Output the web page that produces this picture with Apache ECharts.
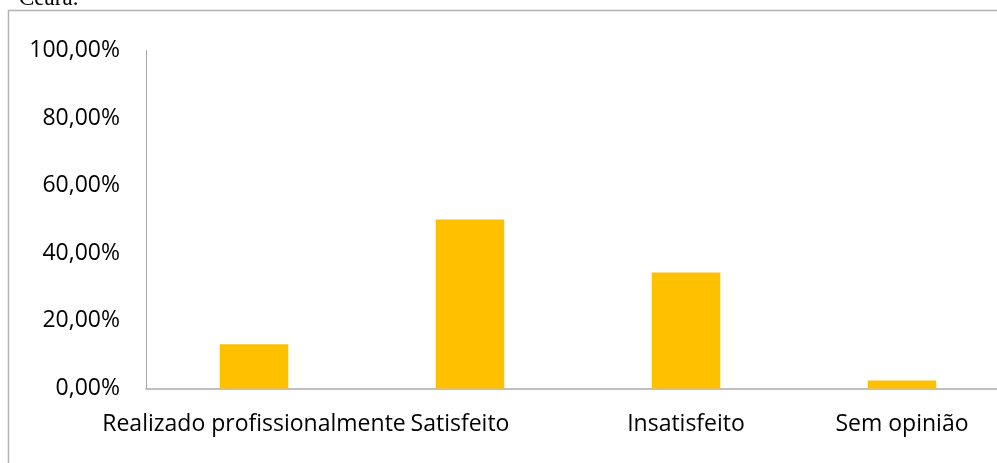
<!DOCTYPE html>
<html>
<head>
<meta charset="utf-8">
<script src="https://cdn.jsdelivr.net/npm/echarts@6/dist/echarts.min.js"></script>
<style>
  html, body { margin: 0; padding: 0; background: #fff; }
  #chart { width: 997px; height: 463px; }
</style>
</head>
<body>
<div id="chart"></div>
<script>
// Satisfação profissional — percentuais por categoria
const categories = ['Realizado profissionalmente', 'Satisfeito', 'Insatisfeito', 'Sem opinião'];
const percentages = [13.1, 50.0, 34.3, 2.4];
const yTicks = { min: 0, max: 100, step: 20 };
const captionText = 'Ceará.';

const chart = echarts.init(document.getElementById('chart'), null, { renderer: 'canvas' });

const fmtPct = v => v.toFixed(2).replace('.', ',') + '%';

// the second category label sits slightly left of its bar
const fmtCategory = (v, i) => (i === 1 ? '{shift|' + v + '}' : v);

chart.setOption({
  animation: false,
  backgroundColor: '#ffffff',
  graphic: [
    {
      type: 'rect',
      shape: { x: 8.5, y: 10.5, width: 1100, height: 600 },
      style: { fill: 'none', stroke: '#b3b3b3', lineWidth: 1.5 },
      silent: true
    },
    {
      type: 'text',
      x: 19,
      y: 10,
      style: {
        text: captionText,
        x: 0,
        y: 0,
        verticalAlign: 'bottom',
        font: '23px "Liberation Serif", "Times New Roman", serif',
        fill: '#000'
      },
      silent: true
    }
  ],
  grid: {
    left: 146,
    top: 50.5,
    width: 864,
    height: 338,
    containLabel: false,
    outerBoundsMode: 'none'
  },
  xAxis: {
    type: 'category',
    data: categories,
    axisLine: { show: true, lineStyle: { color: '#acacac', width: 1.5 } },
    axisTick: { show: false },
    axisLabel: {
      interval: 0,
      margin: 24,
      color: '#000',
      fontFamily: '"Open Sans", sans-serif',
      fontSize: 23,
      formatter: fmtCategory,
      rich: {
        shift: {
          fontFamily: '"Open Sans", sans-serif',
          fontSize: 23,
          color: '#000',
          padding: [0, 20, 0, 0]
        }
      }
    }
  },
  yAxis: {
    type: 'value',
    min: yTicks.min,
    max: yTicks.max,
    interval: yTicks.step,
    axisLine: { show: true, lineStyle: { color: '#a6a6a6', width: 1 } },
    axisTick: { show: false },
    splitLine: { show: false },
    axisLabel: {
      margin: 26,
      color: '#000',
      fontFamily: '"Open Sans", sans-serif',
      fontSize: 23,
      formatter: fmtPct
    }
  },
  series: [{
    type: 'bar',
    data: percentages,
    barWidth: 68.5,
    itemStyle: { color: '#FFC000' }
  }]
});
</script>
</body>
</html>
